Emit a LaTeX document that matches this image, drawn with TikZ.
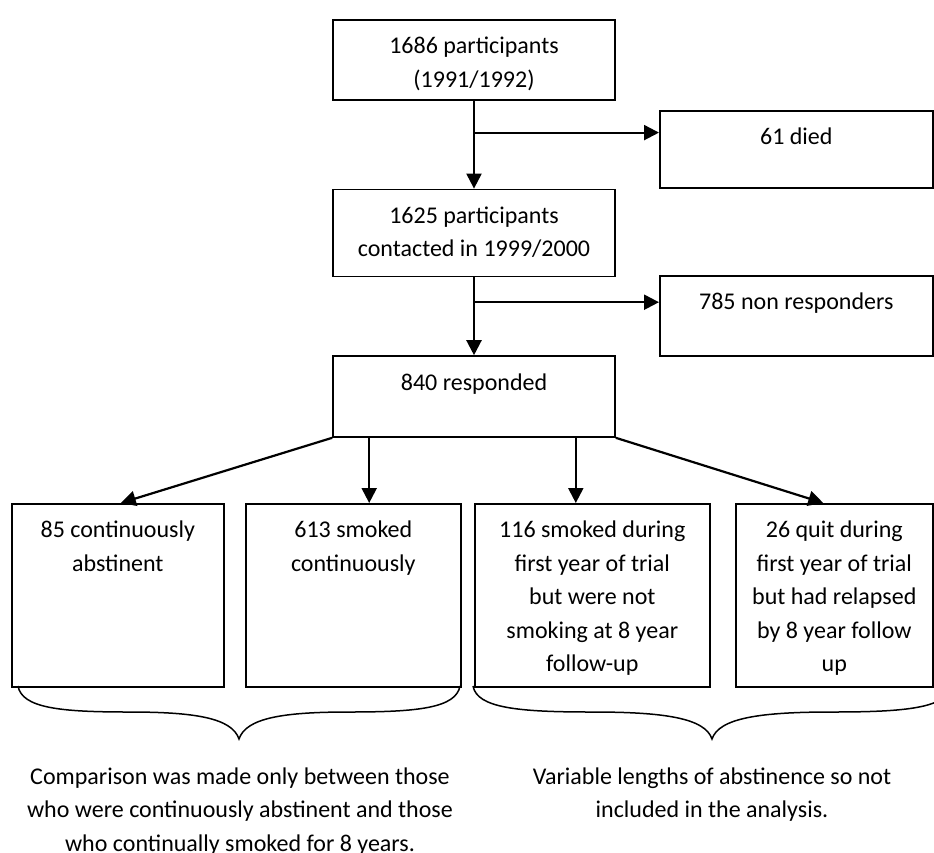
\documentclass[tikz,border=0pt]{standalone}
\usepackage{fontspec}
\setmainfont{Carlito}
\usetikzlibrary{arrows.meta,positioning}

\newcommand{\toplines}[1]{\begin{tabular}[t]{@{}c@{}}#1\end{tabular}}

\begin{document}
\begin{tikzpicture}[x=1pt, y=-1pt, >={Triangle[length=15pt,width=15pt]},
    font=\fontsize{24}{33.5}\selectfont,
    box/.style={rectangle, draw, line width=1.6pt, inner xsep=0pt, inner ysep=10pt, text height=24pt},
    arr/.style={->, line width=2.2pt},
    brace/.style={line width=1.5pt},
    note/.style={inner sep=0pt, text height=24pt, anchor=north}]
    \useasboundingbox (0,0) rectangle (934,852);

    % Nodes
    \node (enrolled) [box, minimum width=282pt, text depth=36pt, anchor=north] at (474,19) {\toplines{1686 participants\\(1991/1992)}};
    \node (contacted) [box, minimum width=282pt, text depth=43pt, below=88pt of enrolled] {\toplines{1625 participants\\contacted in 1999/2000}};
    \node (responded) [box, minimum width=282pt, text depth=37pt, below=78pt of contacted] {840 responded};
    \node (died) [box, minimum width=273pt, text depth=33pt, anchor=north west] at (659,110) {61 died};
    \node (nonresp) [box, minimum width=273pt, text depth=36pt, anchor=north west] at (659,275) {785 non responders};

    \node (abst) [box, minimum width=212pt, text depth=139pt, anchor=north west] at (11,503) {\toplines{85 continuously\\abstinent}};
    \node (smoked) [box, minimum width=215pt, text depth=139pt, anchor=north west] at (245,503) {\toplines{613 smoked\\continuously}};
    \node (ceased) [box, minimum width=235pt, text depth=139pt, anchor=north west] at (474,503) {\toplines{116 smoked during\\first year of trial\\but were not\\smoking at 8 year\\follow-up}};
    \node (relapsed) [box, minimum width=197pt, text depth=139pt, anchor=north west] at (735,503) {\toplines{26 quit during\\first year of trial\\but had relapsed\\by 8 year follow\\up}};

    \node (cmpNote) [note] at (240,760) {\toplines{Comparison was made only between those\\who were continuously abstinent and those\\who continually smoked for 8 years.}};
    \node (exclNote) [note] at (712,760) {\toplines{Variable lengths of abstinence so not\\included in the analysis.}};

    % Arrows
    \coordinate[below=32pt of enrolled.south] (split1);
    \coordinate[below=25pt of contacted.south] (split2);
    \draw[arr] (enrolled) -- (contacted);
    \draw[arr] (split1) -- (split1 -| died.west);
    \draw[arr] (contacted) -- (responded);
    \draw[arr] (split2) -- (split2 -| nonresp.west);

    \coordinate (tapB) at ([xshift=37pt]responded.south west);
    \coordinate (tapC) at ([xshift=-40pt]responded.south east);
    \draw[arr] (responded.south west) -- ([xshift=3pt]abst.north);
    \draw[arr] (tapB) -- (tapB |- smoked.north);
    \draw[arr] (tapC) -- (tapC |- ceased.north);
    \draw[arr] (responded.south east) -- ([xshift=-11pt]relapsed.north);

    % Braces
    \draw[brace] (18,686) .. controls (22,708) and (60,712) .. (129,712)
        .. controls (195,712) and (232,718) .. (239,739)
        .. controls (246,718) and (283,712) .. (349,712)
        .. controls (418,712) and (456,708) .. (460,686);
    \draw[brace] (473,686) .. controls (477,708) and (518,712) .. (592,712)
        .. controls (664,712) and (705,718) .. (712,739)
        .. controls (719,718) and (760,712) .. (832,712)
        .. controls (906,712) and (947,708) .. (951,686);
\end{tikzpicture}
\end{document}
